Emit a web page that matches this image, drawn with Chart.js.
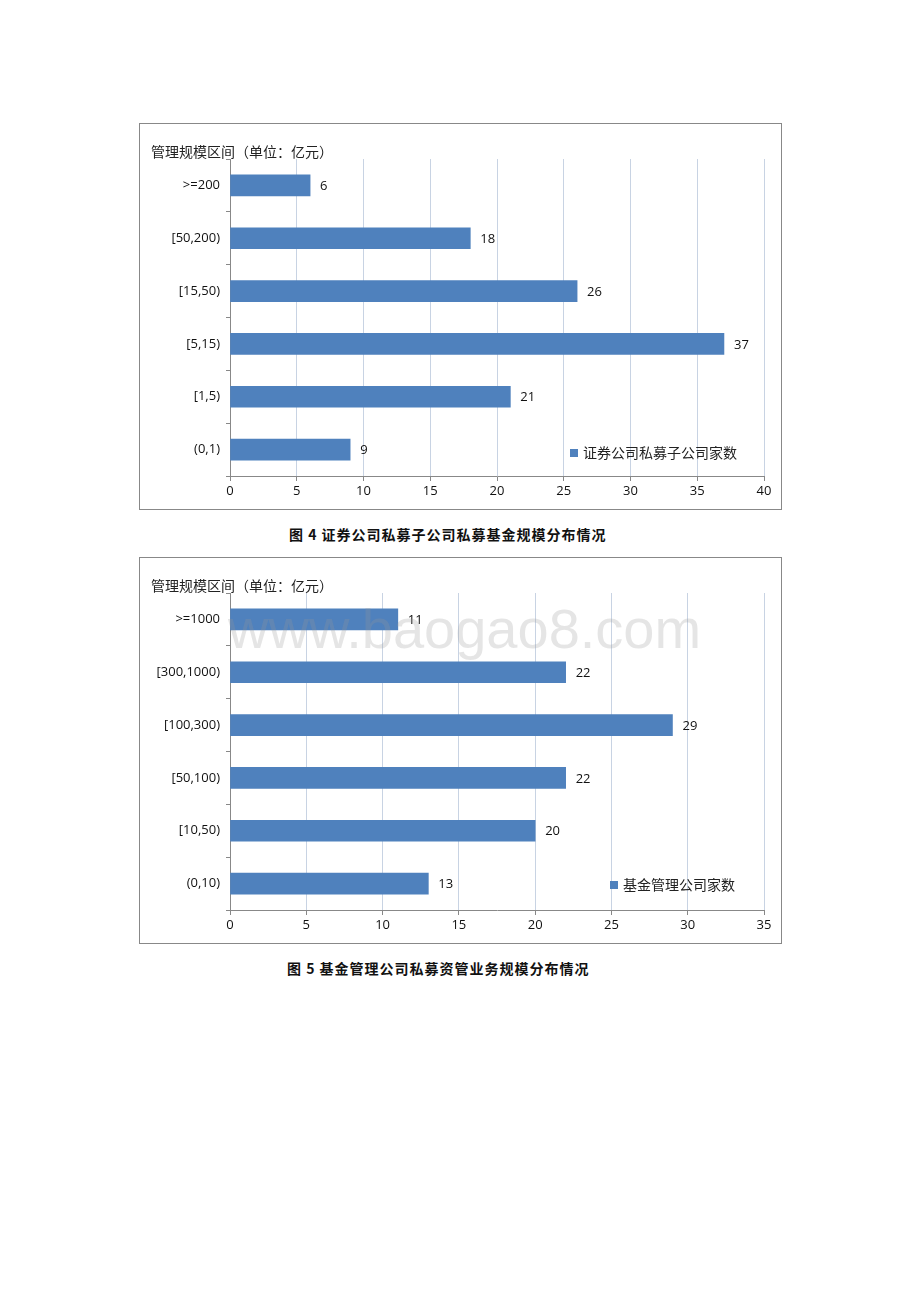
<!DOCTYPE html>
<html><head><meta charset="utf-8">
<script src="https://cdn.jsdelivr.net/npm/chart.js@4"></script>
<style>
body{margin:0;width:920px;height:1302px;background:#fff;position:relative;font-family:"Noto Sans CJK SC",sans-serif}
.box{position:absolute;left:139px;width:641px;height:385px;border:1px solid #888;background:#fff}
.box canvas{position:absolute;left:0;top:0}
.ttl{position:absolute;left:11px;top:17px;font-size:14px;color:#222}
.leg{position:absolute;font-size:14px;color:#222}
.leg span{display:inline-block;width:8px;height:8px;background:#4f81bd;margin-right:5px;vertical-align:1px}
.cap{position:absolute;font-size:14px;font-weight:bold;color:#111;letter-spacing:1px}
.wm{position:absolute;left:228px;top:596px;font-size:56px;color:rgba(150,150,150,0.25);font-family:"Liberation Sans",sans-serif;pointer-events:none}
</style></head><body>
<div class="box" style="top:123px"><canvas id="c1" width="641" height="385"></canvas><div class="ttl">管理规模区间（单位：亿元）</div><div class="leg" style="left:430px;top:318px"><span></span>证券公司私募子公司家数</div></div>
<div class="cap" style="left:289px;top:524px">图 4 证券公司私募子公司私募基金规模分布情况</div>
<div class="box" style="top:557px"><canvas id="c2" width="641" height="385"></canvas><div class="ttl">管理规模区间（单位：亿元）</div><div class="leg" style="left:470px;top:316px"><span></span>基金管理公司家数</div></div>
<div class="cap" style="left:287px;top:958px">图 5 基金管理公司私募资管业务规模分布情况</div>
<div class="wm">www.baogao8.com</div>
<script>
const cats1=[">=200","[50,200)","[15,50)","[5,15)","[1,5)","(0,1)"];
const vals1=[6,18,26,37,21,9];
const cats2=[">=1000","[300,1000)","[100,300)","[50,100)","[10,50)","(0,10)"];
const vals2=[11,22,29,22,20,13];
const labelPlugin={id:'lbl',afterDatasetsDraw(ch){const ctx=ch.ctx;ctx.save();ctx.font='13px "Open Sans",sans-serif';ctx.fillStyle='#111';ctx.textBaseline='middle';
ch.getDatasetMeta(0).data.forEach((b,i)=>{ctx.fillText(ch.data.datasets[0].data[i],b.x+10,b.y+1);});ctx.restore();}};
function mk(id,cats,vals,max){
new Chart(document.getElementById(id),{type:'bar',data:{labels:cats,datasets:[{data:vals,backgroundColor:'#4f81bd',barThickness:21}]},
options:{indexAxis:'y',responsive:false,animation:false,layout:{padding:{top:35,right:17,left:0,bottom:0}},
plugins:{legend:{display:false},tooltip:{enabled:false}},
scales:{x:{min:0,max:max,ticks:{stepSize:5,color:'#111',font:{size:13,family:'"Open Sans",sans-serif'},padding:2},grid:{color:'#c8d3e3',tickLength:5,tickColor:'#888'},border:{color:'#888'},afterFit(s){s.height=33;}},
y:{offset:true,ticks:{color:'#111',font:{size:13,family:'"Open Sans",sans-serif'},padding:6},grid:{offset:true,drawOnChartArea:false,tickLength:4,tickColor:'#888'},border:{color:'#888'},afterFit(s){s.width=90;}}}},
plugins:[labelPlugin]});}
mk('c1',cats1,vals1,40);
mk('c2',cats2,vals2,35);
</script></body></html>
